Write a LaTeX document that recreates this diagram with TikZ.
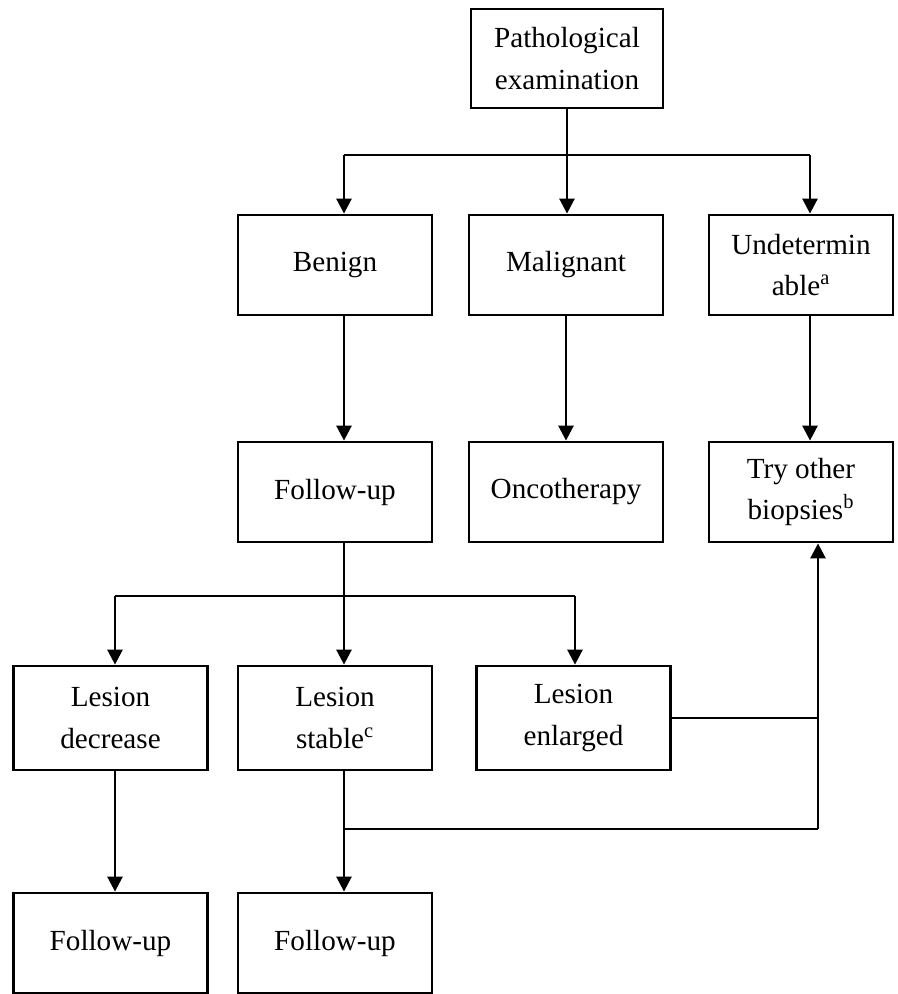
\documentclass[tikz,border=0pt]{standalone}
\usepackage{fontspec}
\setmainfont{Liberation Serif}
\usetikzlibrary{arrows.meta}
\begin{document}
\begin{tikzpicture}[x=0.02cm,y=-0.02cm,
  box/.style={draw,line width=1.6pt,minimum width=3.88cm,minimum height=2cm,
    align=center,inner sep=0pt,font=\fontsize{16.6}{23.5}\selectfont},
  ln/.style={line width=1.5pt},
  arr/.style={line width=1.5pt,-{Triangle[length=0.3cm,width=0.3cm]}}]
  \useasboundingbox (0,0) rectangle (897,994);
  \node[box,minimum width=3.84cm,minimum height=1.98cm] (path) at (567,58.5) {Pathological\\examination};
  \node[box] (benign) at (335,265) {Benign};
  \node[box] (malig) at (566,265) {Malignant};
  \node[box,minimum width=3.68cm] (undet) at (801,265) {Undetermin\\able\textsuperscript{a}};
  \node[box] (fup1) at (335,492) {Follow-up};
  \node[box] (onco) at (566,492) {Oncotherapy};
  \node[box,minimum width=3.68cm] (tryb) at (801,492) {Try other\\biopsies\textsuperscript{b}};
  \node[box,minimum height=2.08cm] (decr) at (110.5,718) {Lesion\\decrease};
  \node[box,minimum height=2.08cm] (stab) at (335,718) {Lesion\\stable\textsuperscript{c}};
  \node[box,minimum height=2.08cm] (enl) at (573.5,718) {Lesion\\enlarged};
  \node[box] (fup2) at (110.5,943) {Follow-up};
  \node[box] (fup3) at (335,943) {Follow-up};
  \coordinate (t1) at (344,155);
  \coordinate (t3) at (810,155);
  \coordinate (f1) at (115,596);
  \coordinate (f2) at (344,596);
  \coordinate (f3) at (575,596);
  \coordinate (j1) at (344,829);
  \coordinate (j2) at (818,829);
  \draw[ln] (t1) -- (t3);
  \draw[arr] (path.south) -- (path.south |- malig.north);
  \draw[arr] (t1) -- (t1 |- benign.north);
  \draw[arr] (t3) -- (t3 |- undet.north);
  \draw[arr] (benign.south -| t1) -- (fup1.north -| t1);
  \draw[arr] (malig.south) -- (onco.north);
  \draw[arr] (undet.south -| t3) -- (tryb.north -| t3);
  \draw[ln] (fup1.south -| f2) -- (f2);
  \draw[ln] (f1) -- (f3);
  \draw[arr] (f1) -- (f1 |- decr.north);
  \draw[arr] (f2) -- (f2 |- stab.north);
  \draw[arr] (f3) -- (f3 |- enl.north);
  \draw[arr] (decr.south -| f1) -- (fup2.north -| f1);
  \draw[arr] (stab.south -| j1) -- (fup3.north -| j1);
  \draw[ln] (j1) -- (j2);
  \draw[ln] (enl.east) -- (enl.east -| j2);
  \draw[arr] (j2) -- (j2 |- tryb.south);
\end{tikzpicture}
\end{document}
